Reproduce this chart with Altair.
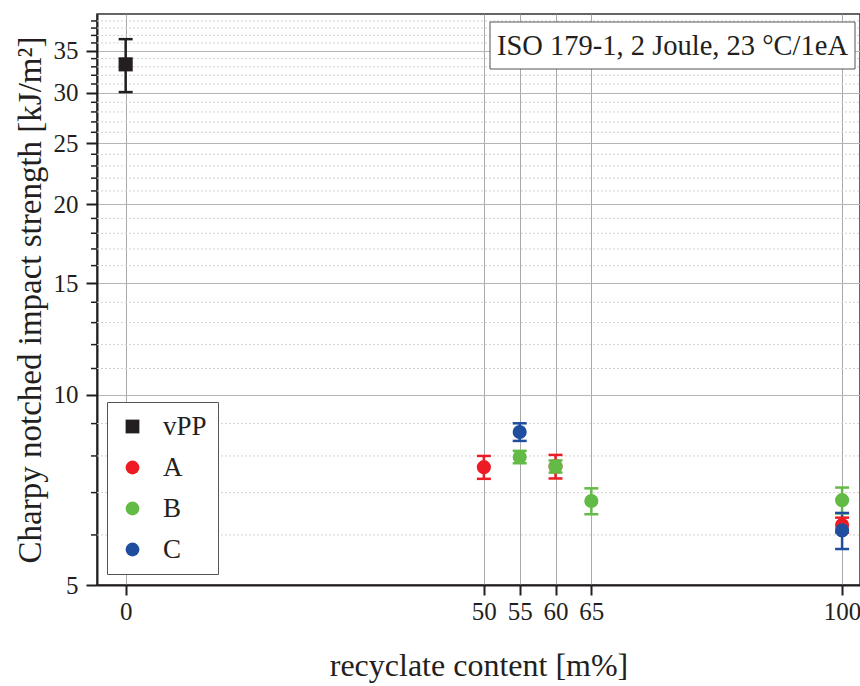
import altair as alt
import pandas as pd

FONT = "Liberation Serif"
INK = "#231f20"

# ---- data ----
series = ["vPP", "A", "B", "C"]
series_colors = ["#231f20", "#ed1c24", "#62bb46", "#1f4e9f"]
series_shapes = ["square", "circle", "circle", "circle"]

pt_series = ["vPP", "A", "A", "A", "B", "B", "B", "B", "C", "C"]
pt_content = [0, 50, 60, 100, 55, 60, 65, 100, 55, 100]
pt_mean = [33.3, 7.68, 7.70, 6.22, 7.97, 7.70, 6.79, 6.81, 8.73, 6.10]
pt_err = [3.2, 0.32, 0.33, 0.17, 0.18, 0.17, 0.32, 0.32, 0.28, 0.40]

x_ticks = [0, 50, 55, 60, 65, 100]
y_major = [5, 10, 15, 20, 25, 30, 35]
y_minor = [v for v in range(6, 40) if v % 5 != 0]
note = "ISO 179-1, 2 Joule, 23 °C/1eA"

df = pd.DataFrame({
    "series": pt_series,
    "content": pt_content,
    "mean": pt_mean,
    "err": pt_err,
})
df["lo"] = df["mean"] - df["err"]
df["hi"] = df["mean"] + df["err"]
df["order"] = df["series"].map({s: i for i, s in enumerate(series)})
df["col"] = df["series"].map(dict(zip(series, series_colors)))
minor_df = pd.DataFrame({"minor": y_minor})

x_scale = alt.Scale(domain=[-4, 102.5], nice=False, zero=False)
y_scale = alt.Scale(type="log", domain=[5, 40], nice=False)

x_axis = alt.Axis(
    values=x_ticks, format="d", title="recyclate content [m%]",
    labelFont=FONT, labelFontSize=25, labelColor=INK, labelPadding=4,
    labelFlush=False, labelOverlap=False,
    tickSize=10, tickWidth=2, tickColor=INK,
    domainColor=INK, domainWidth=2,
    grid=True, gridColor="#a9a9a9", gridWidth=1,
    titleFont=FONT, titleFontSize=32, titleFontWeight="normal", titleColor=INK,
    titleY=80, titleBaseline="middle",
)
y_axis = alt.Axis(
    values=y_major, format="d", title="Charpy notched impact strength [kJ/m²]",
    labelFont=FONT, labelFontSize=25, labelColor=INK, labelPadding=8,
    labelFlush=False, labelOverlap=False,
    tickSize=11, tickWidth=2, tickColor=INK,
    domainColor=INK, domainWidth=2,
    grid=True, gridColor="#b5b5b5", gridWidth=1,
    titleFont=FONT, titleFontSize=33, titleFontWeight="normal", titleColor=INK,
    titleX=-67, titleY=285.5, titleAngle=270, titleBaseline="middle", titleAlign="center",
)

legend_kw = dict(
    title=None, orient="none", legendX=10, legendY=388,
    fillColor="white", strokeColor="#555555", padding=11,
    labelFont=FONT, labelFontSize=27, labelColor=INK,
    symbolSize=190, symbolStrokeWidth=0, symbolOffset=1, labelOffset=17,
    rowPadding=13, symbolOpacity=1,
)

X = alt.X("content:Q", scale=x_scale, axis=x_axis)
stroke_enc = alt.Stroke("col:N", scale=None)

# minor gridlines and minor ticks driven by the y scale
minor_grid = alt.Chart(minor_df).mark_rule(color="#d0d0d0", strokeWidth=1, strokeDash=[2, 2]).encode(
    y=alt.Y("minor:Q", scale=y_scale, axis=y_axis),
    x=alt.value(0), x2=alt.value(763),
)
minor_ticks = alt.Chart(minor_df).mark_rule(color=INK, strokeWidth=1.5).encode(
    y=alt.Y("minor:Q", scale=y_scale, axis=y_axis),
    x=alt.value(-6), x2=alt.value(0),
)

base = alt.Chart(df)

bars = base.mark_rule(strokeWidth=2.5).encode(
    x=X,
    y=alt.Y("lo:Q", scale=y_scale, axis=y_axis),
    y2="hi:Q",
    stroke=stroke_enc,
)

caps = base.transform_fold(["lo", "hi"], as_=["end", "val"]).mark_point(
    shape="M-1,0L1,0", filled=False, size=196, strokeWidth=2.5, opacity=1
).encode(
    x=X,
    y=alt.Y("val:Q", scale=y_scale, axis=y_axis),
    stroke=stroke_enc,
)

points = base.mark_point(filled=True, size=200, opacity=1).encode(
    x=X,
    y=alt.Y("mean:Q", scale=y_scale, axis=y_axis),
    color=alt.Color("series:N", scale=alt.Scale(domain=series, range=series_colors),
                    legend=alt.Legend(**legend_kw)),
    shape=alt.Shape("series:N", scale=alt.Scale(domain=series, range=series_shapes),
                    legend=alt.Legend(**legend_kw)),
    order=alt.Order("order:Q"),
)

note_df = pd.DataFrame({"label": [note]})
note_box = alt.Chart(note_df).mark_rect(fill="white", stroke="#555555", strokeWidth=1).encode(
    x=alt.value(393), x2=alt.value(758), y=alt.value(8), y2=alt.value(55)
)
note_text = alt.Chart(note_df).mark_text(
    font=FONT, fontSize=28.5, color=INK, align="center", baseline="middle"
).encode(x=alt.value(575.5), y=alt.value(32), text="label:N")

chart = alt.layer(minor_grid, minor_ticks, bars, caps, points, note_box, note_text).properties(
    width=763, height=571,
    autosize=alt.AutoSizeParams(type="none"),
    padding={"left": 97, "top": 14, "right": 0, "bottom": 101},
).configure_view(
    stroke="#333333", strokeWidth=1.5
)

chart.save("out.html", embed_options={"renderer": "svg", "actions": False})
